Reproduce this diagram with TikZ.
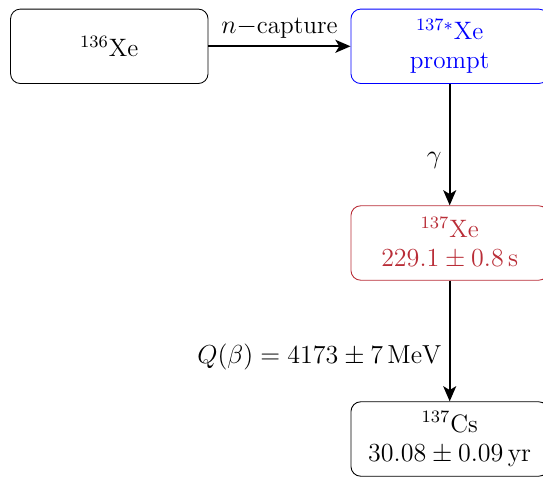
\documentclass[tikz,border=0pt]{standalone}
\usetikzlibrary{arrows.meta}
\definecolor{decayred}{RGB}{185,45,55}
\begin{document}
\begin{tikzpicture}[x=0.4608pt,y=-0.4608pt,font=\fontsize{11.6pt}{13.4pt}\selectfont,
  box/.style={draw,rounded corners=4.5pt,minimum width=91pt,minimum height=34.3pt,inner sep=0pt,align=center,thin},
  conn/.style={thick,-{Stealth[length=7pt,width=6pt,inset=1.8pt]}}]
\useasboundingbox (0,0) rectangle (543,477);
\node[box] (a) at (109.3,46.3) {$^{136}$Xe};
\node[box,draw=blue,text=blue] (b) at (449.7,46.3) {$^{137*}$Xe\\prompt};
\node[box,draw=decayred,text=decayred] (c) at (449.7,243) {$^{137}$Xe\\$229.1\pm0.8\,\mathrm{s}$};
\node[box] (d) at (449.7,439) {$^{137}$Cs\\$30.08\pm0.09\,\mathrm{yr}$};
\draw[conn] (a) -- node[above] (l1) {$n-$capture} (b);
\draw[conn] (b) -- node[left,pos=0.63] (l2) {$\gamma$} (c);
\draw[conn] (c) -- node[left,pos=0.63] (l3) {$Q(\beta)=4173\pm7\,\mathrm{MeV}$} (d);
\end{tikzpicture}
\end{document}
